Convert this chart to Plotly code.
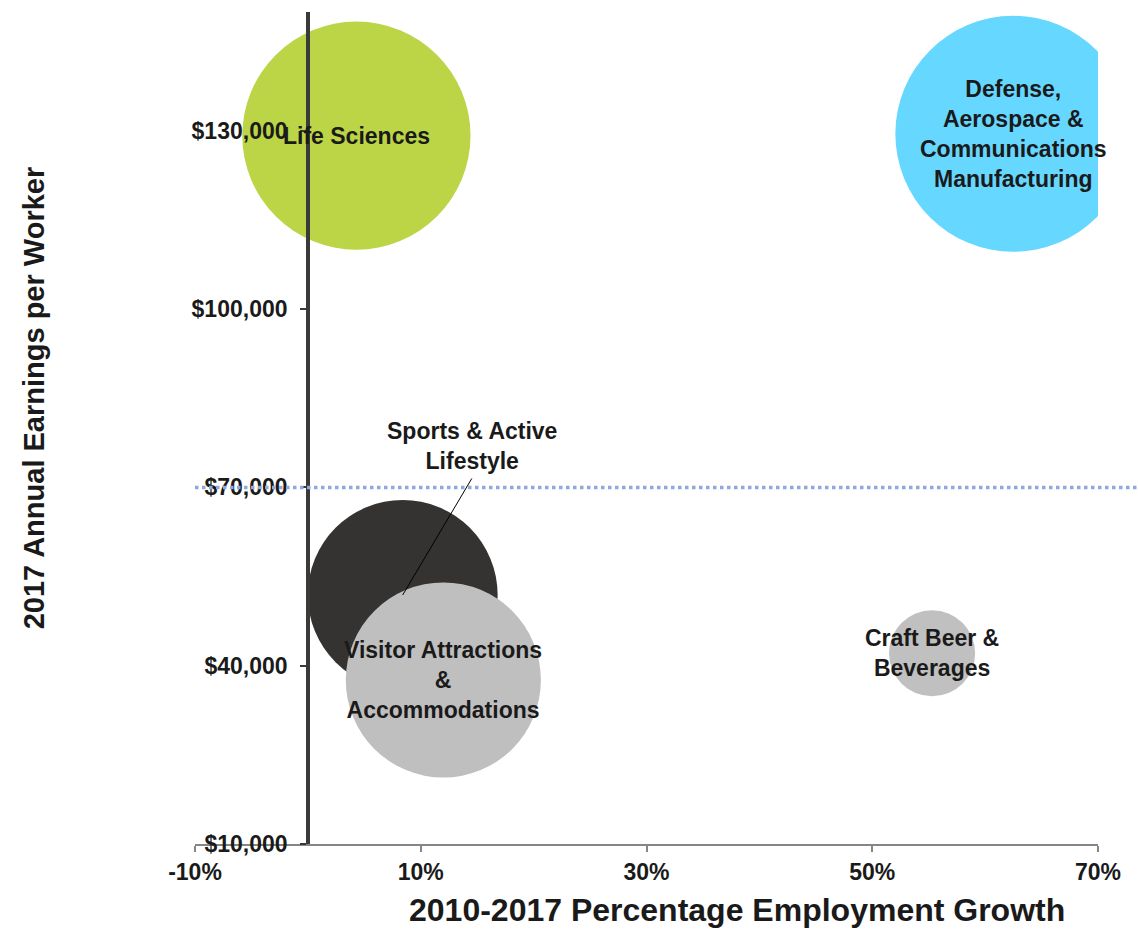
import plotly.graph_objects as go

# Industry clusters: employment growth vs. earnings, bubble area = employment
clusters = [
    "Life Sciences",
    "Defense,<br>Aerospace &<br>Communications<br>Manufacturing",
    "Sports & Active<br>Lifestyle",
    "Visitor Attractions<br>&<br>Accommodations",
    "Craft Beer &<br>Beverages",
]
growth_pct = [4.3, 62.5, 8.4, 12.0, 55.3]            # 2010-2017 employment growth (%)
earnings = [129200, 129500, 51900, 37600, 42100]     # 2017 annual earnings per worker ($)
employment = [13000, 13900, 9000, 9500, 1850]        # 2017 employment (bubble size)
colors = ["#BBD546", "#66D7FF", "#353331", "#BFBFBF", "#C0C0C0"]

x_ticks = [-10, 10, 30, 50, 70]
y_ticks = [10000, 40000, 70000, 100000, 130000]
x_ticktext = [f"{v}%" for v in x_ticks]
y_ticktext = [f"${v:,}" for v in y_ticks]
benchmark_earnings = 70000

FONT = "Liberation Sans, Arial, sans-serif"
INK = "#1a1a1a"
max_diameter = 236
sizeref = 2.0 * max(employment) / max_diameter ** 2

fig = go.Figure()
for name, gx, ey, emp, col in zip(clusters, growth_pct, earnings, employment, colors):
    fig.add_trace(go.Scatter(
        x=[gx], y=[ey], mode="markers", name=name.replace("<br>", " "),
        marker=dict(size=[emp], sizemode="area", sizeref=sizeref, color=col,
                    opacity=1, line=dict(width=0)),
        hoverinfo="skip", cliponaxis=True,
    ))

# Bubble labels
label_font = dict(family=FONT, size=23, color=INK, weight="bold")
for name, gx, ey in zip(clusters, growth_pct, earnings):
    if name.startswith("Sports"):
        # label set above the bubble, with a leader line down to its centre
        fig.add_annotation(x=gx, y=ey, text="", showarrow=True, arrowhead=0,
                           arrowwidth=1, arrowcolor="#000000", ax=70, ay=-118)
        fig.add_annotation(x=gx, y=ey, text=name, showarrow=False,
                           xshift=69, yshift=149, font=label_font)
    else:
        fig.add_annotation(x=gx, y=ey, text=name, showarrow=False, font=label_font)

# Benchmark earnings line
fig.add_shape(type="line", xref="paper", yref="y", x0=0, x1=1.05,
              y0=benchmark_earnings, y1=benchmark_earnings,
              line=dict(color="#8EA9DB", width=3.5, dash="3.5px,3.5px"), layer="above")

# Axis titles
fig.add_annotation(xref="paper", yref="paper", x=0.60, y=-0.079,
                   text="2010-2017 Percentage Employment Growth", showarrow=False,
                   xanchor="center", yanchor="middle",
                   font=dict(family=FONT, size=32, color=INK, weight="bold"))
fig.add_annotation(xref="paper", yref="paper", x=-0.178, y=0.536, textangle=-90,
                   text="2017 Annual Earnings per Worker", showarrow=False,
                   xanchor="center", yanchor="middle",
                   font=dict(family=FONT, size=29, color=INK, weight="bold"))

fig.update_layout(
    width=1138, height=931,
    margin=dict(l=195, r=40, t=12, b=87),
    paper_bgcolor="white", plot_bgcolor="white",
    showlegend=False,
    xaxis=dict(
        range=[-10, 70], tickmode="array", tickvals=x_ticks, ticktext=x_ticktext,
        showgrid=False, zeroline=False,
        showline=True, linecolor="#868686", linewidth=2,
        ticks="outside", ticklen=6, tickwidth=2, tickcolor="#868686",
        tickfont=dict(family=FONT, size=23, color=INK, weight="bold"),
    ),
    yaxis=dict(
        range=[10000, 150000], tickmode="array", tickvals=y_ticks, ticktext=y_ticktext,
        anchor="free", position=0.125,
        showgrid=False, zeroline=False,
        showline=True, linecolor="#3a3a3a", linewidth=3.5,
        ticks="outside", ticklen=6, tickwidth=2, tickcolor="#3a3a3a",
        ticklabelstandoff=8,
        tickfont=dict(family=FONT, size=23, color=INK, weight="bold"),
    ),
)

fig.write_html("out.html")
